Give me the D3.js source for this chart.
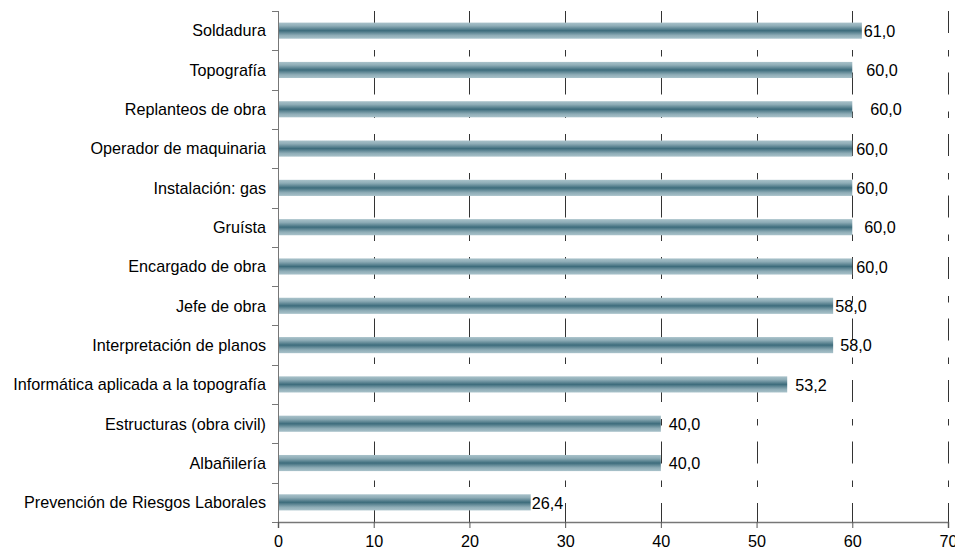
<!DOCTYPE html>
<html><head><meta charset="utf-8">
<script src="https://cdn.jsdelivr.net/npm/d3@7"></script>
<style>body{margin:0;background:#fff}svg{display:block}text{font-family:Arial,"Liberation Sans",sans-serif}</style>
</head><body><svg id="c" width="955" height="551"></svg>
<script>
const categories = ["Soldadura","Topografía","Replanteos de obra","Operador de maquinaria","Instalación: gas","Gruísta","Encargado de obra","Jefe de obra","Interpretación de planos","Informática aplicada a la topografía","Estructuras (obra civil)","Albañilería","Prevención de Riesgos Laborales"];
const values = [61.0,60.0,60.0,60.0,60.0,60.0,60.0,58.0,58.0,53.2,40.0,40.0,26.4];
const valueLabels = ["61,0","60,0","60,0","60,0","60,0","60,0","60,0","58,0","58,0","53,2","40,0","40,0","26,4"];
const xTicks = [0,10,20,30,40,50,60,70];
const labelNudge = [2,14,18,4,4,12,4,2,7,8,8,8,1];

const FS = 16.2;
const svg = d3.select("#c");
const m = {left:278, right:7, top:11, bottom:29};
const W = 955, H = 551;
const x = d3.scaleLinear().domain([0,70]).range([m.left, W - m.right]);
const y = d3.scaleBand().domain(categories).range([m.top, H - m.bottom]).paddingInner(0.59).paddingOuter(0.295);
const yb = d3.scaleBand().domain(categories).range([m.top, H - m.bottom]);

const defs = svg.append("defs");
const g = defs.append("linearGradient").attr("id","bg").attr("x1",0).attr("y1",0).attr("x2",0).attr("y2",1);
[[0,"#a9c2ca"],[0.2,"#8fadb7"],[0.5,"#3d6c7c"],[0.8,"#8fadb7"],[1,"#a9c2ca"]].forEach(([o,c])=>g.append("stop").attr("offset",o).attr("stop-color",c));

// gridlines
svg.append("g").selectAll("line").data(xTicks.filter(d=>d>0)).join("line")
  .attr("x1",d=>Math.round(x(d))+0.5).attr("x2",d=>Math.round(x(d))+0.5)
  .attr("y1",m.top).attr("y2",H-m.bottom)
  .attr("stroke","#333").attr("stroke-width",1).attr("stroke-dasharray","22,17,6.5,16");

// bars
svg.append("g").selectAll("rect").data(categories).join("rect")
  .attr("x",x(0)).attr("y",d=>y(d)).attr("height",y.bandwidth())
  .attr("width",(d,i)=>x(values[i])-x(0)).attr("fill","url(#bg)");

// value labels
svg.append("g").selectAll("text").data(categories).join("text")
  .attr("x",(d,i)=>x(values[i])+labelNudge[i]).attr("y",d=>y(d)+y.bandwidth()/2)
  .attr("dy","0.38em").attr("font-size",FS).attr("fill","#000")
  .text((d,i)=>valueLabels[i]);

// left axis
const ly = svg.append("g");
ly.append("line").attr("x1",x(0)+0.5).attr("x2",x(0)+0.5).attr("y1",m.top).attr("y2",H-m.bottom).attr("stroke","#777");
const bounds = categories.map(c=>yb(c)).concat([H-m.bottom]);
ly.selectAll("line.t").data(bounds).join("line").attr("class","t")
  .attr("x1",x(0)-6).attr("x2",x(0)).attr("y1",d=>Math.round(d)+0.5).attr("y2",d=>Math.round(d)+0.5).attr("stroke","#777");
ly.selectAll("text").data(categories).join("text")
  .attr("x",x(0)-12).attr("y",d=>yb(d)+yb.bandwidth()/2).attr("dy","0.36em")
  .attr("text-anchor","end").attr("font-size",FS).attr("fill","#000").text(d=>d);

// bottom axis
const xa = svg.append("g").attr("transform",`translate(0,${H-m.bottom})`)
  .call(d3.axisBottom(x).tickValues(xTicks).tickSize(6).tickPadding(7).tickFormat(d3.format("d")));
xa.select(".domain").attr("stroke","#777").attr("stroke-width",1.5);
xa.selectAll(".tick line").attr("stroke","#555");
xa.selectAll(".tick text").attr("font-size",FS).attr("font-family","Arial, 'Liberation Sans', sans-serif").attr("fill","#000");
</script></body></html>
